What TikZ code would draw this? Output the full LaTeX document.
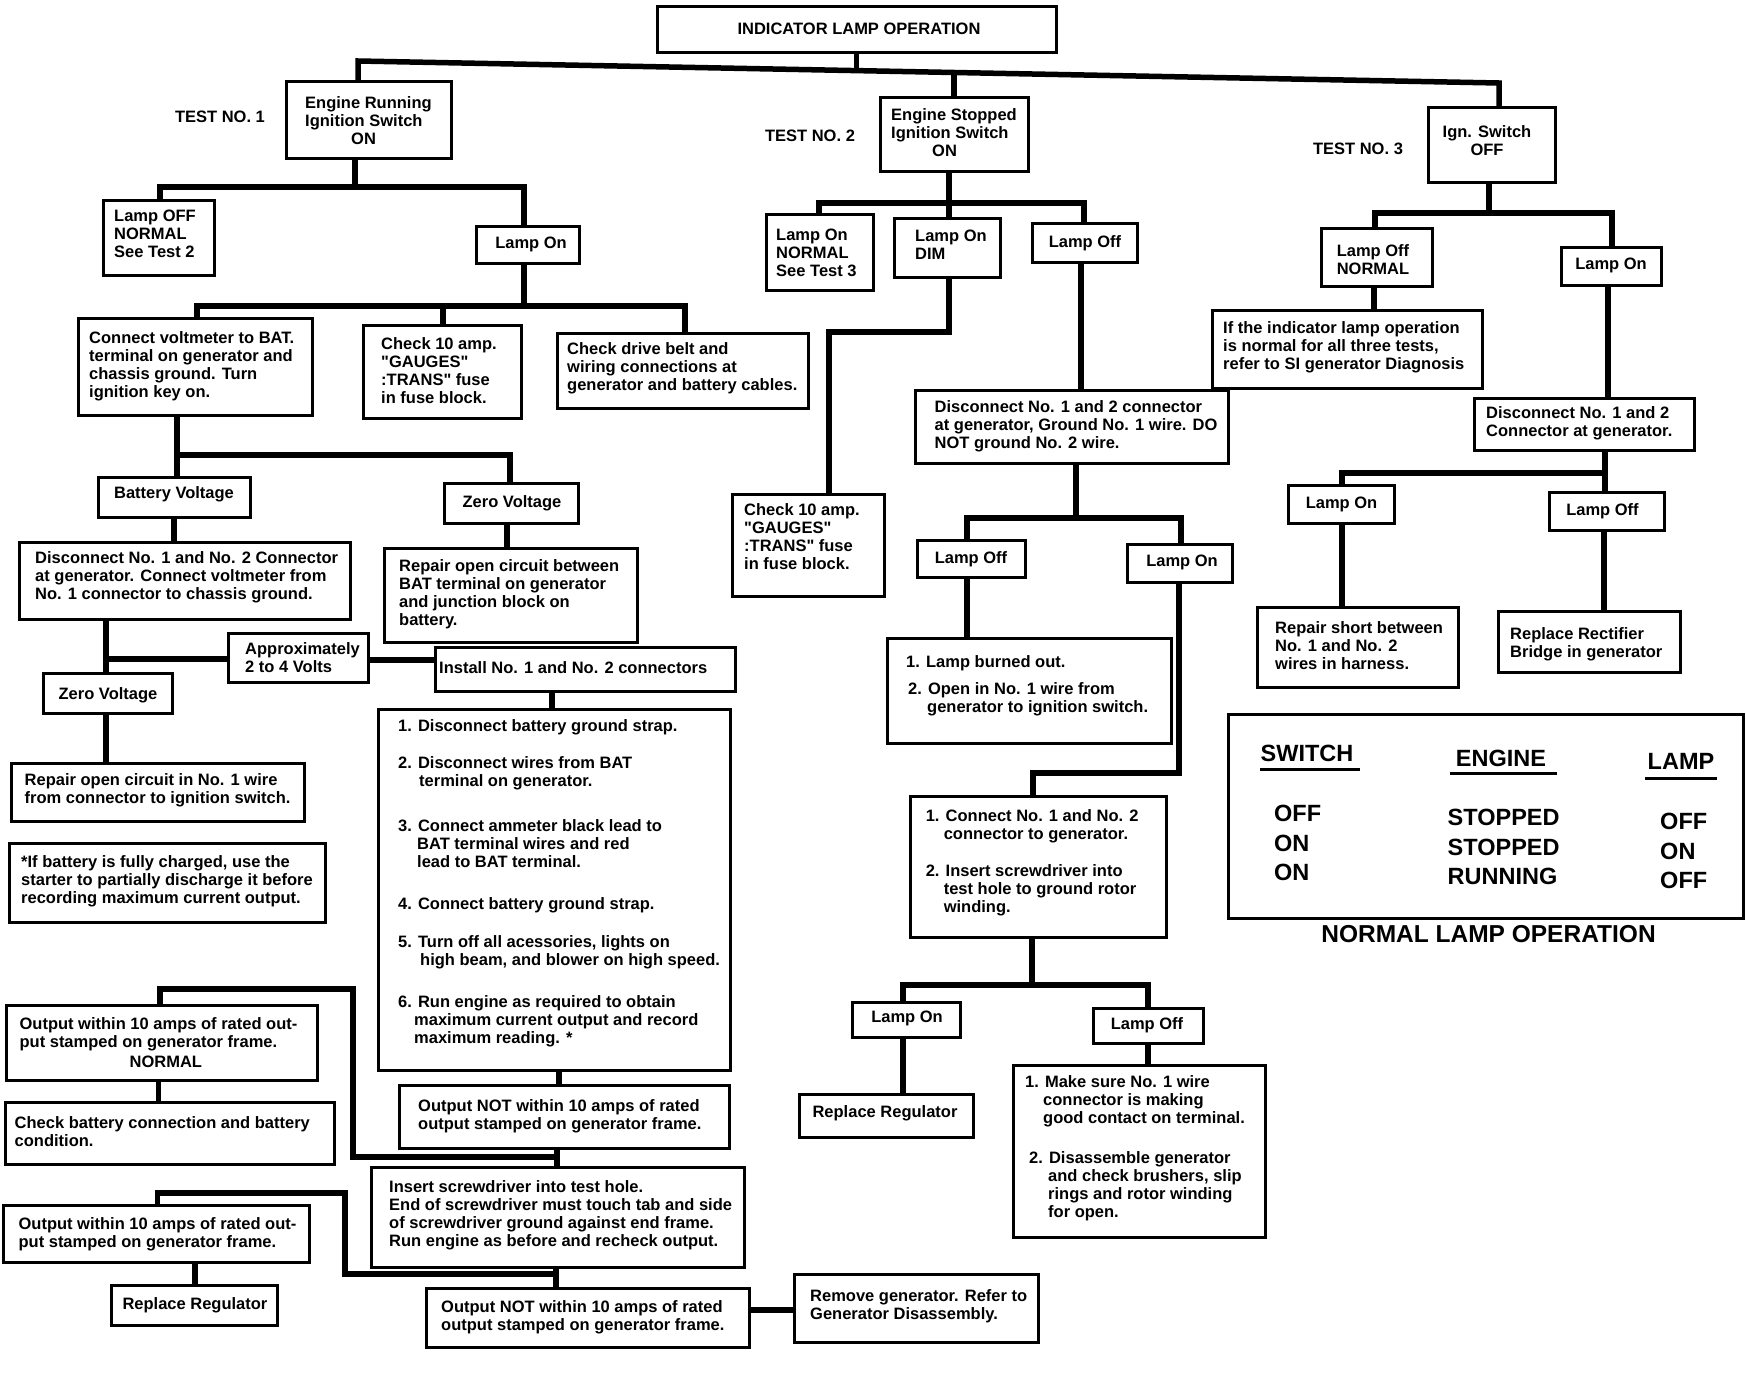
\documentclass[tikz,border=0pt]{standalone}
\usepackage{fontspec}
\setmainfont{Liberation Sans}
\newfontfamily\mainf{Liberation Sans}
\begin{document}
\begin{tikzpicture}[x=1pt,y=-1pt,
  bxs/.style={draw, line width=3pt, inner sep=0pt, outer sep=0pt},
  conn/.style={line width=5.5pt, line join=miter},
  txt/.style={inner sep=0pt, align=left, font=\mainf\bfseries\fontsize{16.5}{18}\selectfont},
  tbl/.style={inner sep=0pt, align=left, font=\mainf\bfseries\fontsize{23.5}{29.5}\selectfont}]
\newcommand\bx[5]{\node[bxs, minimum width={(#4)-(#2)}, minimum height={(#5)-(#3)}] (#1) at ({((#2)+(#4))/2},{((#3)+(#5))/2}) {};}
\fill[white] (0,0) rectangle (1746,1376);
\useasboundingbox (0,0) rectangle (1746,1376);

% ---------- boxes ----------
\bx{title}{657}{6}{1056}{52}
\bx{t1}{286}{81}{451}{158}
\bx{l1off}{103}{200}{214}{275}
\bx{l1on}{476}{226}{579}{263}
\bx{cv}{78}{318}{312}{415}
\bx{ck1}{363}{325}{521}{418}
\bx{belt}{557}{333}{808}{408}
\bx{bv}{98}{477}{250}{517}
\bx{zv1}{444}{483}{578}{523}
\bx{dc1}{19}{542}{350}{619}
\bx{rep1}{384}{548}{637}{642}
\bx{apx}{228}{633}{368}{682}
\bx{inst}{435}{647}{735}{691}
\bx{zv2}{43}{673}{172}{713}
\bx{rep2}{11}{763}{304}{821}
\bx{note}{9}{843}{325}{922}
\bx{steps}{378}{709}{730}{1070}
\bx{onot1}{399}{1085}{729}{1148}
\bx{normal}{6}{1005}{317}{1080}
\bx{chkbat}{5}{1102}{334}{1164}
\bx{insert}{371}{1167}{744}{1267}
\bx{ow2}{3}{1205}{309}{1262}
\bx{rr1}{111}{1285}{277}{1325}
\bx{onot2}{426}{1288}{749}{1347}
\bx{remove}{794}{1274}{1038}{1342}
\bx{t2}{880}{97}{1028}{171}
\bx{l2n}{766}{214}{873}{290}
\bx{l2d}{894}{218}{1000}{277}
\bx{l2off}{1032}{223}{1137}{262}
\bx{ck2}{732}{494}{884}{596}
\bx{dc2}{915}{390}{1228}{463}
\bx{l2off2}{917}{540}{1025}{577}
\bx{l2on2}{1127}{544}{1232}{582}
\bx{burn}{887}{638}{1171}{743}
\bx{cn2}{910}{796}{1166}{937}
\bx{l2on3}{852}{1002}{960}{1037}
\bx{l2off3}{1093}{1008}{1203}{1043}
\bx{rr2}{799}{1094}{973}{1137}
\bx{make}{1013}{1065}{1265}{1237}
\bx{t3}{1428}{107}{1555}{182}
\bx{l3off}{1321}{228}{1432}{286}
\bx{l3on}{1561}{247}{1661}{285}
\bx{ifind}{1212}{310}{1482}{388}
\bx{dc3}{1474}{398}{1694}{450}
\bx{l3on2}{1288}{485}{1394}{523}
\bx{l3off2}{1549}{492}{1664}{530}
\bx{short}{1257}{607}{1458}{687}
\bx{rect}{1498}{611}{1680}{672}
\bx{table}{1228}{714}{1743}{918}

% ---------- texts ----------
\node[txt] (title-t) at (859,29) {INDICATOR LAMP OPERATION};
\node[txt,anchor=north west] (t1-t) at (305,96) {Engine Running\\Ignition Switch\\\hspace*{46pt}ON};
\node[txt] (lbl1) at (220,117) {TEST NO. 1};
\node[txt,anchor=north west] (l1off-t) at (114,210) {Lamp OFF\\NORMAL\\See Test 2};
\node[txt] (l1on-t) at (531,244) {Lamp On};
\node[txt,anchor=north west] (cv-t) at (89,331) {Connect voltmeter to BAT.\\terminal on generator and\\chassis ground. Turn\\ignition key on.};
\node[txt,anchor=north west] (ck1-t) at (381,337) {Check 10 amp.\\"GAUGES"\\:TRANS" fuse\\in fuse block.};
\node[txt,anchor=north west] (belt-t) at (567,342) {Check drive belt and\\wiring connections at\\generator and battery cables.};
\node[txt] (bv-t) at (174,494) {Battery Voltage};
\node[txt] (zv1-t) at (512,503) {Zero Voltage};
\node[txt,anchor=north west] (dc1-t) at (35,551) {Disconnect No. 1 and No. 2 Connector\\at generator. Connect voltmeter from\\No. 1 connector to chassis ground.};
\node[txt,anchor=north west] (rep1-t) at (399,559) {Repair open circuit between\\BAT terminal on generator\\and junction block on\\battery.};
\node[txt,anchor=north west] (apx-t) at (245,642) {Approximately\\2 to 4 Volts};
\node[txt,anchor=west] (inst-t) at (439,668) {Install No. 1 and No. 2 connectors};
\node[txt] (zv2-t) at (108,695) {Zero Voltage};
\node[txt,anchor=north west] (rep2-t) at (24.5,773) {Repair open circuit in No. 1 wire\\from connector to ignition switch.};
\node[txt,anchor=north west] (note-t) at (21,855) {*If battery is fully charged, use the\\starter to partially discharge it before\\recording maximum current output.};
\node[txt,anchor=north west] (steps-t) at (398,719) {1. Disconnect battery ground strap.\\[19pt]
2. Disconnect wires from BAT\\
\hspace*{21pt}terminal on generator.\\[27pt]
3. Connect ammeter black lead to\\
\hspace*{19pt}BAT terminal wires and red\\
\hspace*{19pt}lead to BAT terminal.\\[24pt]
4. Connect battery ground strap.\\[20pt]
5. Turn off all acessories, lights on\\
\hspace*{22pt}high beam, and blower on high speed.\\[24pt]
6. Run engine as required to obtain\\
\hspace*{16pt}maximum current output and record\\
\hspace*{16pt}maximum reading. *};
\node[txt,anchor=north west] (onot1-t) at (418,1099) {Output NOT within 10 amps of rated\\output stamped on generator frame.};
\node[txt,anchor=north west] (normal-t) at (19.4,1017) {Output within 10 amps of rated out-\\put stamped on generator frame.\\[2pt]\hspace*{110pt}NORMAL};
\node[txt,anchor=north west] (chkbat-t) at (14.5,1116) {Check battery connection and battery\\condition.};
\node[txt,anchor=north west] (insert-t) at (389,1180) {Insert screwdriver into test hole.\\End of screwdriver must touch tab and side\\of screwdriver ground against end frame.\\Run engine as before and recheck output.};
\node[txt,anchor=north west] (ow2-t) at (18.4,1217) {Output within 10 amps of rated out-\\put stamped on generator frame.};
\node[txt] (rr1-t) at (195,1305) {Replace Regulator};
\node[txt,anchor=north west] (onot2-t) at (441,1300) {Output NOT within 10 amps of rated\\output stamped on generator frame.};
\node[txt,anchor=north west] (remove-t) at (810,1289) {Remove generator. Refer to\\Generator Disassembly.};

\node[txt,anchor=north west] (t2-t) at (891,108) {Engine Stopped\\Ignition Switch\\\hspace*{41pt}ON};
\node[txt] (lbl2) at (810,136) {TEST NO. 2};
\node[txt,anchor=north west] (l2n-t) at (776,229) {Lamp On\\NORMAL\\See Test 3};
\node[txt,anchor=north west] (l2d-t) at (915,230) {Lamp On\\DIM};
\node[txt] (l2off-t) at (1085,243) {Lamp Off};
\node[txt,anchor=north west] (ck2-t) at (744,503) {Check 10 amp.\\"GAUGES"\\:TRANS" fuse\\in fuse block.};
\node[txt,anchor=north west] (dc2-t) at (934.5,400) {Disconnect No. 1 and 2 connector\\at generator, Ground No. 1 wire. DO\\NOT ground No. 2 wire.};
\node[txt] (l2off2-t) at (971,559) {Lamp Off};
\node[txt] (l2on2-t) at (1182,562) {Lamp On};
\node[txt,anchor=north west] (burn-t) at (906,655) {1. Lamp burned out.\\[9pt]\hspace*{2pt}2. Open in No. 1 wire from\\\hspace*{21pt}generator to ignition switch.};
\node[txt,anchor=north west] (cn2-t) at (925.6,809) {1. Connect No. 1 and No. 2\\\hspace*{18pt}connector to generator.\\[19pt]2. Insert screwdriver into\\\hspace*{18pt}test hole to ground rotor\\\hspace*{18pt}winding.};
\node[txt] (l2on3-t) at (907,1018) {Lamp On};
\node[txt] (l2off3-t) at (1147,1025) {Lamp Off};
\node[txt] (rr2-t) at (885,1113) {Replace Regulator};
\node[txt,anchor=north west] (make-t) at (1025,1075) {1. Make sure No. 1 wire\\\hspace*{18pt}connector is making\\\hspace*{18pt}good contact on terminal.\\[22pt]\hspace*{4pt}2. Disassemble generator\\\hspace*{23pt}and check brushers, slip\\\hspace*{23pt}rings and rotor winding\\\hspace*{23pt}for open.};

\node[txt,align=center] (t3-t) at (1487,140.5) {Ign. Switch\\OFF};
\node[txt] (lbl3) at (1358,149) {TEST NO. 3};
\node[txt,align=center] (l3off-t) at (1373,260) {Lamp Off\\NORMAL};
\node[txt] (l3on-t) at (1611,265) {Lamp On};
\node[txt,anchor=north west] (ifind-t) at (1223,321) {If the indicator lamp operation\\is normal for all three tests,\\refer to SI generator Diagnosis};
\node[txt,anchor=north west] (dc3-t) at (1486,406) {Disconnect No. 1 and 2\\Connector at generator.};
\node[txt] (l3on2-t) at (1341.5,504.5) {Lamp On};
\node[txt] (l3off2-t) at (1602.5,511) {Lamp Off};
\node[txt,anchor=north west] (short-t) at (1275,621.6) {Repair short between\\No. 1 and No. 2\\wires in harness.};
\node[txt,anchor=north west] (rect-t) at (1510,627) {Replace Rectifier\\Bridge in generator};

% table
\node[tbl] (hsw) at (1307,753) {SWITCH};
\node[tbl] (hen) at (1501,758) {ENGINE};
\node[tbl] (hla) at (1681,761) {LAMP};
\draw[line width=3pt] (1260,769) -- (1360,769);
\draw[line width=3pt] (1450,773.5) -- (1557,773.5);
\draw[line width=3pt] (1645,778) -- (1717,778);
\node[tbl,anchor=north west] (csw) at (1274,805) {OFF\\ON\\ON};
\node[tbl,anchor=north west] (cen) at (1447.5,809) {STOPPED\\STOPPED\\RUNNING};
\node[tbl,anchor=north west] (cla) at (1660,813) {OFF\\ON\\OFF};
\node[tbl,font=\mainf\bfseries\fontsize{24.5}{29}\selectfont] (cap) at (1488.5,934) {NORMAL LAMP OPERATION};

% ---------- connectors ----------
\coordinate (busL) at (358,61);
\coordinate (busR) at (1499,83);
\draw[conn] (t1.north -| busL) -- (busL) -- (busR) -- (t3.north -| busR);
\draw[conn] (title.south) -- ++(0,18.6);
\draw[conn] (t2.north) -- ++(0,-24.5);

% test 1
\draw[conn] (t1.south -| 355,0) -- (355,187);
\draw[conn] (l1off.north -| 160,0) |- (524,187) -- (l1on.north -| 524,0);
\draw[conn] (l1on.south -| 524,0) -- (524,306);
\draw[conn] (cv.north -| 197,0) |- (685,306) -- (belt.north -| 685,0);
\draw[conn] (ck1.north -| 443,0) -- (443,306);
\draw[conn] (cv.south -| 177,0) -- (bv.north -| 177,0);
\draw[conn] (177,455) -| (zv1.north -| 510,0);
\draw[conn] (bv.south -| 174,0) -- (dc1.north -| 174,0);
\draw[conn] (zv1.south -| 507,0) -- (rep1.north -| 507,0);
\draw[conn] (dc1.south -| 106,0) -- (zv2.north -| 106,0);
\draw[conn] (106,659) -- (apx.west |- 0,659);
\draw[conn] (apx.east |- 0,660) -- (inst.west |- 0,660);
\draw[conn] (zv2.south -| 106,0) -- (rep2.north -| 106,0);
\draw[conn] (inst.south -| 552,0) -- (steps.north -| 552,0);
\draw[conn] (steps.south -| 559,0) -- (onot1.north -| 559,0);
\draw[conn] (onot1.south -| 557,0) -- (insert.north -| 557,0);
\draw[conn] (557,1157) -| (353,989) -| (normal.north -| 160,0);
\draw[conn] (normal.south -| 158.5,0) -- (chkbat.north -| 158.5,0);
\draw[conn] (insert.south -| 556,0) -- (onot2.north -| 556,0);
\draw[conn] (556,1274) -| (345,1193) -| (ow2.north -| 157.5,0);
\draw[conn] (ow2.south -| 195,0) -- (rr1.north -| 195,0);
\draw[conn] (onot2.east |- 0,1310) -- (remove.west |- 0,1310);

% test 2
\draw[conn] (t2.south -| 949,0) -- (949,203);
\draw[conn] (l2n.north -| 819,0) |- (1084,203) -- (l2off.north -| 1084,0);
\draw[conn] (949,203) -- (l2d.north -| 949,0);
\draw[conn] (l2d.south -| 949,0) |- (829,332) -- (ck2.north -| 829,0);
\draw[conn] (l2off.south -| 1081,0) -- (dc2.north -| 1081,0);
\draw[conn] (dc2.south -| 1076,0) -- (1076,518);
\draw[conn] (l2off2.north -| 967,0) |- (1181,518) -- (l2on2.north -| 1181,0);
\draw[conn] (l2off2.south -| 967,0) -- (burn.north -| 967,0);
\draw[conn] (l2on2.south -| 1179,0) |- (1033,773) -- (cn2.north -| 1033,0);
\draw[conn] (cn2.south -| 1032,0) -- (1032,985);
\draw[conn] (l2on3.north -| 903,0) |- (1148,985) -- (l2off3.north -| 1148,0);
\draw[conn] (l2on3.south -| 903,0) -- (rr2.north -| 903,0);
\draw[conn] (l2off3.south -| 1148,0) -- (make.north -| 1148,0);

% test 3
\draw[conn] (t3.south -| 1489,0) -- (1489,213);
\draw[conn] (l3off.north -| 1375,0) |- (1612,213) -- (l3on.north -| 1612,0);
\draw[conn] (l3off.south -| 1374,0) -- (ifind.north -| 1374,0);
\draw[conn] (l3on.south -| 1608,0) -- (dc3.north -| 1608,0);
\draw[conn] (dc3.south -| 1605,0) -- (1605,473);
\draw[conn] (l3on2.north -| 1342,0) |- (1605,473) -- (l3off2.north -| 1605,0);
\draw[conn] (l3on2.south -| 1342,0) -- (short.north -| 1342,0);
\draw[conn] (l3off2.south -| 1604,0) -- (rect.north -| 1604,0);
\end{tikzpicture}
\end{document}
